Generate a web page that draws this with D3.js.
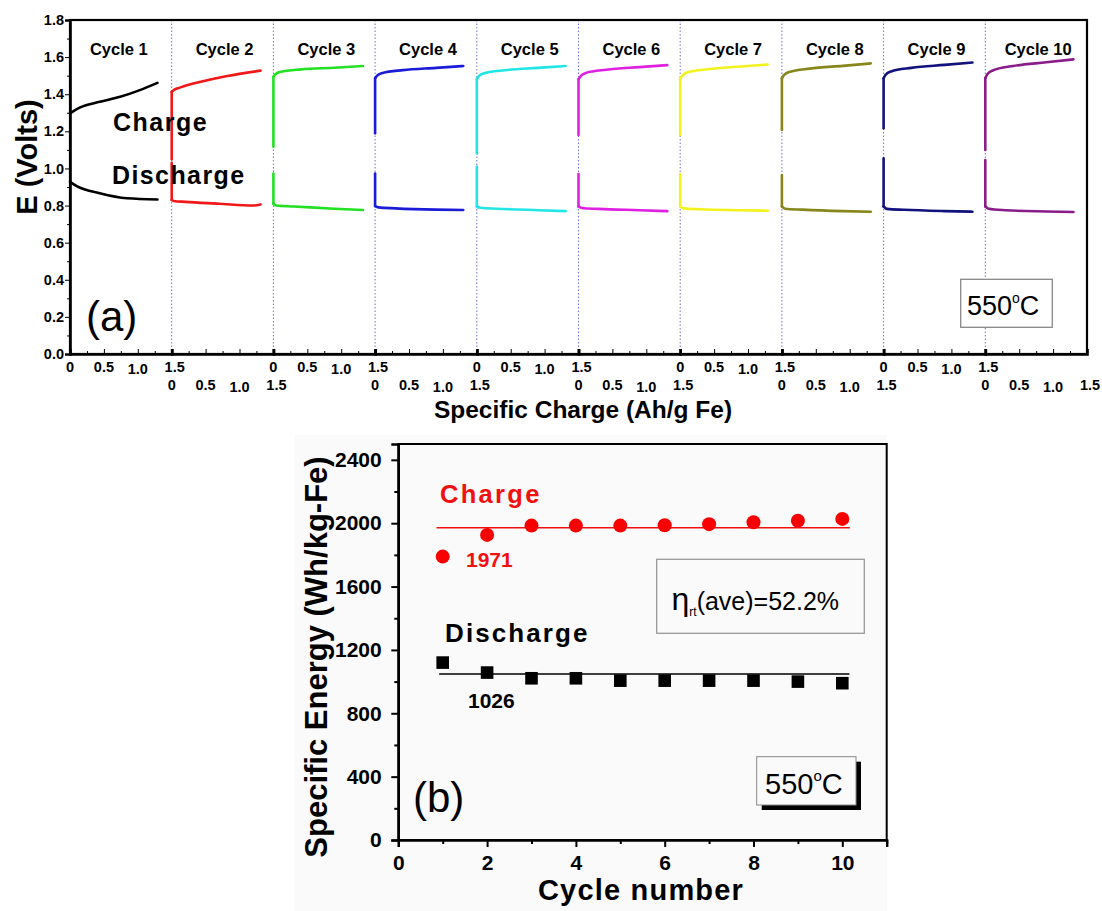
<!DOCTYPE html>
<html><head><meta charset="utf-8">
<script src="https://cdn.jsdelivr.net/npm/d3@7"></script>
<style>
html,body{margin:0;padding:0;background:#fff;}
svg{display:block;}
text{font-family:"Liberation Sans",Arial,sans-serif;}
</style></head>
<body>
<svg id="chart" width="1102" height="911"></svg>
<script>
// ---------- DATA ----------
const cycleLabels = ["Cycle 1","Cycle 2","Cycle 3","Cycle 4","Cycle 5","Cycle 6","Cycle 7","Cycle 8","Cycle 9","Cycle 10"];
const cycleColors = ["#000000","#f01818","#22e022","#1c1cd8","#22e6e6","#e020e0","#f2f21c","#86861a","#12127e","#8a1c8a"];
const ahTicks = [0, 0.5, 1.0, 1.5];
const ahTickLabels = ["0","0.5","1.0","1.5"];
const voltTicks = [0,0.2,0.4,0.6,0.8,1.0,1.2,1.4,1.6,1.8];
// charge curves per cycle: [Ah/g Fe, E(V)]
const chargeCurves = [
  [[0,1.297],[0.15,1.329],[0.44,1.359],[0.74,1.386],[1.03,1.422],[1.29,1.461]],
  [[0,1.05],[0,1.413],[0.04,1.425],[0.13,1.437],[0.43,1.467],[0.82,1.498],[1.31,1.527]],
  [[0,1.117],[0,1.494],[0.03,1.508],[0.11,1.521],[0.41,1.534],[0.9,1.543],[1.32,1.552]],
  [[0,1.189],[0,1.486],[0.03,1.500],[0.11,1.515],[0.41,1.530],[0.9,1.542],[1.30,1.552]],
  [[0,1.081],[0,1.480],[0.03,1.497],[0.11,1.513],[0.41,1.529],[0.9,1.542],[1.31,1.552]],
  [[0,1.180],[0,1.480],[0.03,1.497],[0.11,1.515],[0.41,1.532],[0.9,1.546],[1.31,1.557]],
  [[0,1.180],[0,1.480],[0.03,1.500],[0.11,1.518],[0.41,1.535],[0.9,1.549],[1.29,1.560]],
  [[0,1.207],[0,1.486],[0.03,1.503],[0.11,1.520],[0.41,1.538],[0.9,1.553],[1.31,1.566]],
  [[0,1.216],[0,1.486],[0.03,1.505],[0.11,1.523],[0.41,1.542],[0.9,1.558],[1.31,1.571]],
  [[0,1.099],[0,1.486],[0.03,1.508],[0.11,1.528],[0.41,1.552],[0.9,1.572],[1.30,1.588]]
];
// discharge curves per cycle: [Ah/g Fe, E(V)]
const dischargeCurves = [
  [[0,0.928],[0.1,0.905],[0.44,0.866],[0.84,0.839],[1.29,0.833]],
  [[0,1.03],[0,0.830],[0.03,0.825],[0.2,0.820],[0.7,0.810],[1.2,0.800],[1.31,0.806]],
  [[0,0.973],[0,0.810],[0.04,0.800],[0.3,0.795],[0.9,0.783],[1.32,0.776]],
  [[0,0.973],[0,0.797],[0.05,0.790],[0.3,0.785],[0.9,0.778],[1.30,0.776]],
  [[0,1.009],[0,0.795],[0.05,0.788],[0.3,0.783],[0.9,0.775],[1.31,0.770]],
  [[0,0.970],[0,0.795],[0.05,0.787],[0.3,0.782],[0.9,0.775],[1.31,0.770]],
  [[0,0.970],[0,0.795],[0.05,0.785],[0.3,0.780],[0.9,0.775],[1.29,0.772]],
  [[0,0.964],[0,0.795],[0.05,0.783],[0.3,0.778],[0.9,0.770],[1.31,0.767]],
  [[0,1.054],[0,0.795],[0.05,0.782],[0.3,0.777],[0.9,0.770],[1.31,0.767]],
  [[0,1.045],[0,0.795],[0.05,0.783],[0.3,0.775],[0.9,0.768],[1.30,0.765]]
];
// panel (b)
const cycleNumbers = [1,2,3,4,5,6,7,8,9,10];
const chargeEnergy = [1789,1926,1985,1985,1985,1987,1994,2006,2015,2027];
const dischargeEnergy = [1120,1057,1021,1021,1006,1006,1006,1006,1000,990];
const averageLines = [1971, 1048];           // drawn levels (charge, discharge)
const averageLabels = ["1971","1026"];
const energyTicks = [0,400,800,1200,1600,2000,2400];
const cycleTicks = [0,2,4,6,8,10];

// ---------- SETUP ----------
const svg = d3.select("#chart");
const bold = "bold";

// ===== Panel (a) =====
const xCum = d3.scaleLinear().domain([0, 15]).range([70, 1087]);
const yTop = d3.scaleLinear().domain([0, 1.8]).range([354, 20]);
const gA = svg.append("g");

// separators (dotted)
const seps = d3.range(1, 10).map(i => i * 1.5);
gA.selectAll("line.sep").data(seps).join("line")
  .attr("x1", d => xCum(d)).attr("x2", d => xCum(d))
  .attr("y1", yTop(1.8)).attr("y2", yTop(0))
  .attr("stroke", "#7070d0").attr("stroke-width", 1).attr("stroke-dasharray", "1.5,2");

// curves: vertical part drawn straight, the rest smooth (monotone in x)
cycleLabels.forEach((lab, i) => {
  const lineStraight = d3.line().x(d => xCum(i * 1.5 + d[0])).y(d => yTop(d[1]));
  const lineSmooth = d3.line().x(d => xCum(i * 1.5 + d[0])).y(d => yTop(d[1])).curve(d3.curveMonotoneX);
  [chargeCurves[i], dischargeCurves[i]].forEach(c => {
    let pieces;
    if (c.length > 1 && c[0][0] === c[1][0]) pieces = [[c.slice(0, 2), lineStraight], [c.slice(1), lineSmooth]];
    else pieces = [[c, lineSmooth]];
    pieces.forEach(([pts, gen]) => {
      gA.append("path").attr("d", gen(pts)).attr("fill", "none")
        .attr("stroke", cycleColors[i]).attr("stroke-width", 2.6)
        .attr("stroke-linejoin", "round").attr("stroke-linecap", "round");
    });
  });
  gA.append("text").attr("x", xCum(i * 1.5 + (i === 0 ? 0.72 : 0.78))).attr("y", 55)
    .attr("text-anchor", "middle").attr("font-weight", bold).attr("font-size", 16.5)
    .text(lab);
});

// frame
gA.append("rect").attr("x", 70).attr("y", 20).attr("width", 1017).attr("height", 334)
  .attr("fill", "none").attr("stroke", "#000").attr("stroke-width", 2.2);

// y axis
const yAxA = gA.append("g").attr("transform", "translate(70,0)")
  .call(d3.axisLeft(yTop).tickValues(voltTicks).tickFormat(d3.format(".1f")).tickSize(5).tickPadding(1));
yAxA.select(".domain").attr("stroke-width", 2.6);
yAxA.selectAll("text").attr("font-size", 14.5).attr("font-weight", bold).attr("fill", "#000");
gA.append("g").attr("transform", "translate(70,0)")
  .call(d3.axisLeft(yTop).tickValues(d3.range(0.1, 1.8, 0.2)).tickFormat("").tickSize(3))
  .select(".domain").remove();

// x axis (segments)
cycleLabels.forEach((lab, i) => {
  const sub = d3.scaleLinear().domain([0, 1.5]).range([xCum(i * 1.5), xCum((i + 1) * 1.5)]);
  const ax = gA.append("g").attr("transform", "translate(0,354)")
    .call(d3.axisBottom(sub).tickValues(ahTicks).tickFormat("").tickSize(-5));
  ax.select(".domain").attr("stroke-width", 2.6);
  gA.append("g").attr("transform", "translate(0,354)")
    .call(d3.axisBottom(sub).tickValues([0.25, 0.75, 1.25]).tickFormat("").tickSize(-3))
    .select(".domain").remove();
  const rowY = (i % 2 === 0) ? 372 : 390;
  gA.selectAll(null).data(ahTicks).join("text")
    .attr("x", (d, k) => sub(d) + (k === 3 ? 3 : 0))
    .attr("y", (d, k) => rowY + (k === 2 ? 1.5 : 0))
    .attr("text-anchor", "middle").attr("font-size", 14.5).attr("font-weight", bold)
    .text((d, k) => ahTickLabels[k]);
});

// titles & annotations
gA.append("text").attr("transform", "translate(37,157) rotate(-90)").attr("text-anchor", "middle")
  .attr("font-size", 29).attr("font-weight", bold).text("E (Volts)");
gA.append("text").attr("x", 583).attr("y", 418).attr("text-anchor", "middle")
  .attr("font-size", 24.5).attr("font-weight", bold).text("Specific Charge (Ah/g Fe)");
gA.append("text").attr("x", 113).attr("y", 131).attr("font-size", 25).attr("font-weight", bold)
  .attr("letter-spacing", 1.5).text("Charge");
gA.append("text").attr("x", 112).attr("y", 184).attr("font-size", 25).attr("font-weight", bold)
  .attr("letter-spacing", 1.4).text("Discharge");
gA.append("text").attr("x", 86).attr("y", 331).attr("font-size", 42)
  .attr("font-family", "Lato, 'Open Sans', sans-serif").text("(a)");
gA.append("rect").attr("x", 960.7).attr("y", 279.3).attr("width", 91.6).attr("height", 48)
  .attr("fill", "#fff").attr("stroke", "#888").attr("stroke-width", 1.3);
const t550a = gA.append("text").attr("x", 967).attr("y", 315).attr("font-size", 27);
t550a.append("tspan").text("550");
t550a.append("tspan").attr("font-size", 14).attr("dy", -12).text("o");
t550a.append("tspan").attr("dy", 12).text("C");

// ===== Panel (b) =====
const gB = svg.append("g");
gB.append("rect").attr("x", 295).attr("y", 435).attr("width", 592).attr("height", 476).attr("fill", "#fafafa");
const xB = d3.scaleLinear().domain([0, 11]).range([398.3, 886.7]);
const yB = d3.scaleLinear().domain([0, 2500]).range([840, 444]);

gB.append("rect").attr("x", 398.3).attr("y", 444).attr("width", 488.4).attr("height", 396)
  .attr("fill", "none").attr("stroke", "#000").attr("stroke-width", 2);

const xAxB = gB.append("g").attr("transform", "translate(0,840)")
  .call(d3.axisBottom(xB).tickValues(cycleTicks).tickFormat(d3.format("d")).tickSize(7).tickPadding(8));
xAxB.select(".domain").attr("stroke-width", 2.4);
xAxB.selectAll("line").attr("stroke-width", 2);
xAxB.selectAll("text").attr("font-size", 21).attr("font-weight", bold).attr("fill", "#000");
gB.append("g").attr("transform", "translate(0,840)")
  .call(d3.axisBottom(xB).tickValues([1,3,5,7,9,11]).tickFormat("").tickSize(4))
  .call(g => g.select(".domain").remove()).selectAll("line").attr("stroke-width", 2);

const yAxB = gB.append("g").attr("transform", "translate(398.3,0)")
  .call(d3.axisLeft(yB).tickValues(energyTicks).tickFormat(d3.format("d")).tickSize(7).tickPadding(9.6));
yAxB.select(".domain").attr("stroke-width", 2.4);
yAxB.selectAll("line").attr("stroke-width", 2);
yAxB.selectAll("text").attr("font-size", 21).attr("font-weight", bold).attr("fill", "#000");
gB.append("g").attr("transform", "translate(398.3,0)")
  .call(d3.axisLeft(yB).tickValues([200,600,1000,1400,1800,2200]).tickFormat("").tickSize(4))
  .call(g => g.select(".domain").remove()).selectAll("line").attr("stroke-width", 2);

// average lines
gB.append("line").attr("x1", xB(0.86)).attr("x2", xB(10.17))
  .attr("y1", yB(averageLines[0])).attr("y2", yB(averageLines[0]))
  .attr("stroke", "#f01010").attr("stroke-width", 1.6);
gB.append("line").attr("x1", xB(0.92)).attr("x2", xB(10.16))
  .attr("y1", yB(averageLines[1])).attr("y2", yB(averageLines[1]))
  .attr("stroke", "#000").attr("stroke-width", 1.6);

// points
gB.selectAll("circle.ch").data(cycleNumbers).join("circle")
  .attr("cx", d => xB(d)).attr("cy", (d, i) => yB(chargeEnergy[i])).attr("r", 7)
  .attr("fill", "#f80000");
gB.selectAll("rect.dis").data(cycleNumbers).join("rect")
  .attr("x", d => xB(d) - 6.3).attr("y", (d, i) => yB(dischargeEnergy[i]) - 6.3)
  .attr("width", 12.6).attr("height", 12.6).attr("fill", "#000");

// annotations
gB.append("text").attr("x", 440).attr("y", 503).attr("font-size", 25.5).attr("font-weight", bold)
  .attr("letter-spacing", 2.3).attr("fill", "#f01010").text("Charge");
gB.append("text").attr("x", 466).attr("y", 567).attr("font-size", 21).attr("font-weight", bold)
  .attr("fill", "#f01010").text(averageLabels[0]);
gB.append("text").attr("x", 445).attr("y", 642).attr("font-size", 26).attr("font-weight", bold)
  .attr("letter-spacing", 2.1).text("Discharge");
gB.append("text").attr("x", 468).attr("y", 708).attr("font-size", 21).attr("font-weight", bold)
  .text(averageLabels[1]);
gB.append("text").attr("x", 413).attr("y", 812).attr("font-size", 42)
  .attr("font-family", "Lato, 'Open Sans', sans-serif").text("(b)");

gB.append("rect").attr("x", 656.7).attr("y", 559.3).attr("width", 207.6).attr("height", 74)
  .attr("fill", "#fafafa").attr("stroke", "#999").attr("stroke-width", 1.3);
const te = gB.append("text").attr("x", 671.5).attr("y", 610).attr("font-size", 25);
te.append("tspan").attr("font-size", 32).text("η");
te.append("tspan").attr("font-size", 12).attr("dy", 6).text("rt");
te.append("tspan").attr("dy", -6).text("(ave)=52.2%");

gB.append("rect").attr("x", 761.7).attr("y", 761.7).attr("width", 99.3).attr("height", 48.3).attr("fill", "#000");
gB.append("rect").attr("x", 756.7).attr("y", 756.7).attr("width", 99.3).attr("height", 48.3)
  .attr("fill", "#fafafa").attr("stroke", "#888").attr("stroke-width", 1);
const t550b = gB.append("text").attr("x", 765).attr("y", 794).attr("font-size", 29);
t550b.append("tspan").text("550");
t550b.append("tspan").attr("font-size", 15).attr("dy", -13).text("o");
t550b.append("tspan").attr("dy", 13).text("C");

gB.append("text").attr("transform", "translate(327,657) rotate(-90)").attr("text-anchor", "middle")
  .attr("font-size", 31).attr("font-weight", bold).text("Specific Energy (Wh/kg-Fe)");
gB.append("text").attr("x", 641).attr("y", 900).attr("text-anchor", "middle")
  .attr("font-size", 29).attr("font-weight", bold).attr("letter-spacing", 1.2).text("Cycle number");
</script>
</body></html>
